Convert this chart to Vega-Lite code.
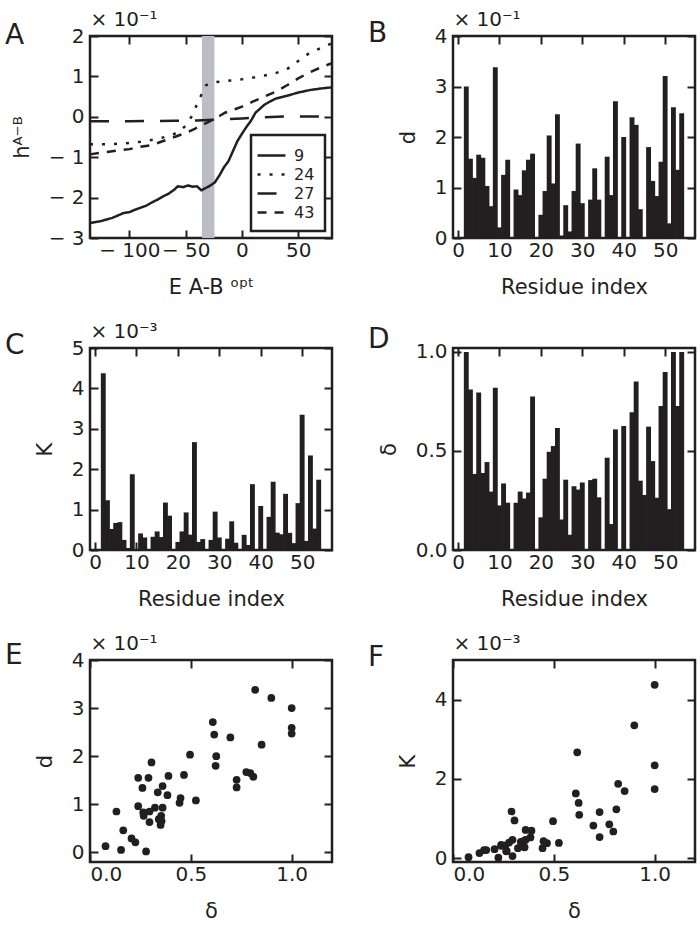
{
  "$schema": "https://vega.github.io/schema/vega-lite/v6.json",
  "background": "white",
  "padding": {"left": 3, "top": 7, "right": 0, "bottom": 0},
  "config": {
    "font": "DejaVu Sans",
    "view": {"stroke": "#231f20", "strokeWidth": 2.5},
    "axis": {"domain": false, "grid": false, "tickSize": -8, "tickWidth": 2, "tickColor": "#231f20", "labelFontSize": 20, "labelColor": "#231f20", "titleFontSize": 21, "titleFontWeight": "normal", "titleColor": "#231f20", "labelPadding": 10, "titlePadding": 16},
    "axisLeft": {"labelPadding": 14, "titlePadding": 16},
    "axisTop": {"titleAnchor": "start", "titleAlign": "left", "titleBaseline": "alphabetic", "titlePadding": 10, "titleFontSize": 20},
    "title": {"fontSize": 28, "fontWeight": "normal", "anchor": "start", "color": "#231f20", "frame": "group", "offset": 0, "baseline": "alphabetic"},
    "legend": {"strokeWidth": 2.5}
  },
  "datasets": {
    "res": [
      {"residue": 2, "d": 3.00, "K": 4.375, "delta": 1.00},
      {"residue": 3, "d": 1.57, "K": 1.23, "delta": 0.81},
      {"residue": 4, "d": 1.19, "K": 0.52, "delta": 0.384},
      {"residue": 5, "d": 1.65, "K": 0.67, "delta": 0.795},
      {"residue": 6, "d": 1.59, "K": 0.69, "delta": 0.389},
      {"residue": 7, "d": 1.03, "K": 0.25, "delta": 0.444},
      {"residue": 8, "d": 0.63, "K": 0.05, "delta": 0.295},
      {"residue": 9, "d": 3.38, "K": 1.875, "delta": 0.819},
      {"residue": 10, "d": 0.21, "K": 0.01, "delta": 0.225},
      {"residue": 11, "d": 1.25, "K": 0.41, "delta": 0.336},
      {"residue": 12, "d": 1.55, "K": 0.31, "delta": 0.239},
      {"residue": 14, "d": 0.96, "K": 0.33, "delta": 0.239},
      {"residue": 15, "d": 0.85, "K": 0.46, "delta": 0.295},
      {"residue": 16, "d": 1.34, "K": 0.32, "delta": 0.26},
      {"residue": 17, "d": 1.55, "K": 1.175, "delta": 0.29},
      {"residue": 18, "d": 1.67, "K": 0.85, "delta": 0.775},
      {"residue": 20, "d": 0.46, "K": 0.2, "delta": 0.165},
      {"residue": 21, "d": 0.93, "K": 0.46, "delta": 0.36},
      {"residue": 22, "d": 2.03, "K": 0.93, "delta": 0.496},
      {"residue": 23, "d": 1.08, "K": 0.38, "delta": 0.525},
      {"residue": 24, "d": 2.45, "K": 2.67, "delta": 0.616},
      {"residue": 25, "d": 0.05, "K": 0.2, "delta": 0.154},
      {"residue": 26, "d": 0.65, "K": 0.27, "delta": 0.355},
      {"residue": 27, "d": 0.13, "K": 0.02, "delta": 0.077},
      {"residue": 28, "d": 0.93, "K": 0.25, "delta": 0.322},
      {"residue": 29, "d": 1.87, "K": 0.95, "delta": 0.305},
      {"residue": 30, "d": 0.69, "K": 0.31, "delta": 0.341},
      {"residue": 32, "d": 0.76, "K": 0.28, "delta": 0.353},
      {"residue": 33, "d": 1.38, "K": 0.71, "delta": 0.36},
      {"residue": 34, "d": 0.76, "K": 0.18, "delta": 0.266},
      {"residue": 36, "d": 1.61, "K": 0.375, "delta": 0.466},
      {"residue": 37, "d": 0.85, "K": 0.125, "delta": 0.131},
      {"residue": 38, "d": 2.71, "K": 1.63, "delta": 0.609},
      {"residue": 40, "d": 2.0, "K": 1.09, "delta": 0.626},
      {"residue": 42, "d": 2.39, "K": 0.82, "delta": 0.696},
      {"residue": 43, "d": 2.24, "K": 1.69, "delta": 0.851},
      {"residue": 44, "d": 0.57, "K": 0.43, "delta": 0.35},
      {"residue": 45, "d": 0.02, "K": 0.39, "delta": 0.278},
      {"residue": 46, "d": 1.8, "K": 1.39, "delta": 0.623},
      {"residue": 47, "d": 1.13, "K": 0.425, "delta": 0.449},
      {"residue": 48, "d": 0.83, "K": 0.17, "delta": 0.264},
      {"residue": 49, "d": 1.51, "K": 1.16, "delta": 0.727},
      {"residue": 50, "d": 3.21, "K": 3.35, "delta": 0.899},
      {"residue": 51, "d": 0.29, "K": 0.225, "delta": 0.206},
      {"residue": 52, "d": 2.59, "K": 2.34, "delta": 1.0},
      {"residue": 53, "d": 1.35, "K": 0.53, "delta": 0.727},
      {"residue": 54, "d": 2.47, "K": 1.74, "delta": 1.0}
    ],
    "hab": [
      {"series": "9", "E": -135, "h": -2.63}, {"series": "9", "E": -125, "h": -2.58}, {"series": "9", "E": -115, "h": -2.5},
      {"series": "9", "E": -105, "h": -2.38}, {"series": "9", "E": -100, "h": -2.36}, {"series": "9", "E": -95, "h": -2.3},
      {"series": "9", "E": -85, "h": -2.2}, {"series": "9", "E": -80, "h": -2.12}, {"series": "9", "E": -75, "h": -2.05},
      {"series": "9", "E": -70, "h": -1.97}, {"series": "9", "E": -65, "h": -1.9}, {"series": "9", "E": -60, "h": -1.8},
      {"series": "9", "E": -57, "h": -1.72}, {"series": "9", "E": -52, "h": -1.74}, {"series": "9", "E": -48, "h": -1.7},
      {"series": "9", "E": -44, "h": -1.73}, {"series": "9", "E": -40, "h": -1.72}, {"series": "9", "E": -36, "h": -1.82},
      {"series": "9", "E": -32, "h": -1.76}, {"series": "9", "E": -28, "h": -1.7}, {"series": "9", "E": -24, "h": -1.62},
      {"series": "9", "E": -20, "h": -1.45}, {"series": "9", "E": -16, "h": -1.25}, {"series": "9", "E": -12, "h": -1.1},
      {"series": "9", "E": -8, "h": -0.85}, {"series": "9", "E": -4, "h": -0.6}, {"series": "9", "E": 0, "h": -0.42},
      {"series": "9", "E": 4, "h": -0.25}, {"series": "9", "E": 8, "h": -0.1}, {"series": "9", "E": 12, "h": 0.1},
      {"series": "9", "E": 16, "h": 0.2}, {"series": "9", "E": 20, "h": 0.3}, {"series": "9", "E": 25, "h": 0.38},
      {"series": "9", "E": 30, "h": 0.45}, {"series": "9", "E": 40, "h": 0.52}, {"series": "9", "E": 50, "h": 0.6},
      {"series": "9", "E": 60, "h": 0.66}, {"series": "9", "E": 70, "h": 0.7}, {"series": "9", "E": 80, "h": 0.73},
      {"series": "24", "E": -135, "h": -0.68}, {"series": "24", "E": -120, "h": -0.68}, {"series": "24", "E": -105, "h": -0.66},
      {"series": "24", "E": -90, "h": -0.62}, {"series": "24", "E": -75, "h": -0.55}, {"series": "24", "E": -62, "h": -0.45},
      {"series": "24", "E": -55, "h": -0.35}, {"series": "24", "E": -50, "h": -0.22}, {"series": "24", "E": -45, "h": 0.0},
      {"series": "24", "E": -40, "h": 0.3}, {"series": "24", "E": -36, "h": 0.55}, {"series": "24", "E": -32, "h": 0.78},
      {"series": "24", "E": -28, "h": 0.84}, {"series": "24", "E": -20, "h": 0.87}, {"series": "24", "E": -10, "h": 0.9},
      {"series": "24", "E": 0, "h": 0.93}, {"series": "24", "E": 10, "h": 0.97}, {"series": "24", "E": 20, "h": 1.02},
      {"series": "24", "E": 30, "h": 1.08}, {"series": "24", "E": 40, "h": 1.18}, {"series": "24", "E": 50, "h": 1.38},
      {"series": "24", "E": 60, "h": 1.58}, {"series": "24", "E": 70, "h": 1.7}, {"series": "24", "E": 80, "h": 1.82},
      {"series": "27", "E": -135, "h": -0.11}, {"series": "27", "E": -100, "h": -0.11}, {"series": "27", "E": -60, "h": -0.1},
      {"series": "27", "E": -40, "h": -0.09}, {"series": "27", "E": -20, "h": -0.07}, {"series": "27", "E": 0, "h": -0.04},
      {"series": "27", "E": 20, "h": -0.01}, {"series": "27", "E": 40, "h": 0.01}, {"series": "27", "E": 60, "h": 0.01},
      {"series": "27", "E": 80, "h": 0.0},
      {"series": "43", "E": -135, "h": -0.93}, {"series": "43", "E": -120, "h": -0.87}, {"series": "43", "E": -100, "h": -0.8},
      {"series": "43", "E": -90, "h": -0.74}, {"series": "43", "E": -80, "h": -0.7}, {"series": "43", "E": -70, "h": -0.6},
      {"series": "43", "E": -60, "h": -0.5}, {"series": "43", "E": -50, "h": -0.4}, {"series": "43", "E": -42, "h": -0.3},
      {"series": "43", "E": -35, "h": -0.2}, {"series": "43", "E": -28, "h": -0.1}, {"series": "43", "E": -20, "h": 0.02},
      {"series": "43", "E": -15, "h": 0.1}, {"series": "43", "E": -5, "h": 0.2}, {"series": "43", "E": 0, "h": 0.25},
      {"series": "43", "E": 10, "h": 0.38}, {"series": "43", "E": 20, "h": 0.5}, {"series": "43", "E": 30, "h": 0.62},
      {"series": "43", "E": 40, "h": 0.78}, {"series": "43", "E": 50, "h": 0.95}, {"series": "43", "E": 60, "h": 1.1},
      {"series": "43", "E": 70, "h": 1.22}, {"series": "43", "E": 80, "h": 1.33}
    ]
  },
  "columns": 2,
  "spacing": {"row": 110, "column": 121},
  "bounds": "flush",
  "resolve": {"legend": {"strokeDash": "independent"}},
  "concat": [
    {
      "width": 242, "height": 202,
      "title": {"text": "A", "dx": -85, "dy": 45},
      "resolve": {"axis": {"x": "independent", "y": "independent"}},
      "layer": [
        {
          "data": {"values": [{"band_from": -35.5, "band_to": -24.5}]},
          "mark": {"type": "rect", "color": "#bcbcc4"},
          "encoding": {
            "x": {"field": "band_from", "type": "quantitative", "scale": {"domain": [-135, 80], "nice": false, "zero": false}, "axis": null},
            "x2": {"field": "band_to"}
          }
        },
        {
          "data": {"name": "hab"},
          "mark": {"type": "line", "strokeWidth": 2.5, "color": "#231f20"},
          "encoding": {
            "x": {"field": "E", "type": "quantitative", "scale": {"domain": [-135, 80], "nice": false, "zero": false},
                  "axis": {"orient": "bottom", "values": [-100, -50, 0, 50], "title": "E A-B ᵒᵖᵗ", "labelExpr": "replace(replace(datum.label, '−', '− '), '-', '− ')"}},
            "y": {"field": "h", "type": "quantitative", "scale": {"domain": [-3, 2], "nice": false, "zero": false},
                  "axis": {"orient": "left", "values": [-3, -2, -1, 0, 1, 2], "title": "hᴬ⁻ᴮ", "labelExpr": "replace(replace(datum.label, '−', '− '), '-', '− ')"}},
            "strokeDash": {"field": "series", "type": "nominal",
              "scale": {"domain": ["9", "24", "27", "43"], "range": [[1, 0], [3, 9], [19, 16], [9, 8]]},
              "legend": {"orient": "bottom-right", "title": null, "offset": 7, "symbolType": "M-1.55,0H1.55", "symbolSize": 324, "symbolStrokeWidth": 2.5, "symbolStrokeColor": "#231f20", "labelFontSize": 16, "labelColor": "#231f20", "labelOffset": 12, "strokeColor": "#231f20", "fillColor": "white", "padding": 10, "rowPadding": 0}}
          }
        },
        {
          "data": {"name": "hab"},
          "mark": {"type": "point", "opacity": 0},
          "encoding": {
            "x": {"field": "E", "type": "quantitative", "scale": {"domain": [-135, 80], "nice": false, "zero": false},
                  "axis": {"orient": "top", "values": [-100, -50, 0, 50], "labels": false, "title": "× 10⁻¹"}},
            "y": {"field": "h", "type": "quantitative", "scale": {"domain": [-3, 2], "nice": false, "zero": false},
                  "axis": {"orient": "right", "values": [-3, -2, -1, 0, 1, 2], "labels": false, "title": null}}
          }
        }
      ]
    },
    {
      "width": 242, "height": 202,
      "title": {"text": "B", "dx": -85, "dy": 43},
      "resolve": {"axis": {"x": "independent", "y": "independent"}},
      "data": {"name": "res"},
      "layer": [
        {
          "mark": {"type": "bar", "size": 4.9, "color": "#231f20"},
          "encoding": {
            "x": {"field": "residue", "type": "quantitative", "scale": {"domain": [0, 56], "nice": false}, "axis": {"orient": "bottom", "values": [0, 10, 20, 30, 40, 50], "title": "Residue index"}},
            "y": {"field": "d", "type": "quantitative", "scale": {"domain": [0, 4], "nice": false}, "axis": {"orient": "left", "values": [0, 1, 2, 3, 4], "title": "d"}}
          }
        },
        {
          "mark": {"type": "point", "opacity": 0},
          "encoding": {
            "x": {"field": "residue", "type": "quantitative", "scale": {"domain": [0, 56], "nice": false}, "axis": {"orient": "top", "values": [0, 10, 20, 30, 40, 50], "labels": false, "title": "× 10⁻¹"}},
            "y": {"field": "d", "type": "quantitative", "scale": {"domain": [0, 4], "nice": false}, "axis": {"orient": "right", "values": [0, 1, 2, 3, 4], "labels": false, "title": null}}
          }
        }
      ]
    },
    {
      "width": 242, "height": 202,
      "title": {"text": "C", "dx": -85, "dy": 43},
      "resolve": {"axis": {"x": "independent", "y": "independent"}},
      "data": {"name": "res"},
      "layer": [
        {
          "mark": {"type": "bar", "size": 4.9, "color": "#231f20"},
          "encoding": {
            "x": {"field": "residue", "type": "quantitative", "scale": {"domain": [0, 56], "nice": false}, "axis": {"orient": "bottom", "values": [0, 10, 20, 30, 40, 50], "title": "Residue index"}},
            "y": {"field": "K", "type": "quantitative", "scale": {"domain": [0, 5], "nice": false}, "axis": {"orient": "left", "values": [0, 1, 2, 3, 4, 5], "title": "K"}}
          }
        },
        {
          "mark": {"type": "point", "opacity": 0},
          "encoding": {
            "x": {"field": "residue", "type": "quantitative", "scale": {"domain": [0, 56], "nice": false}, "axis": {"orient": "top", "values": [0, 10, 20, 30, 40, 50], "labels": false, "title": "× 10⁻³"}},
            "y": {"field": "K", "type": "quantitative", "scale": {"domain": [0, 5], "nice": false}, "axis": {"orient": "right", "values": [0, 1, 2, 3, 4, 5], "labels": false, "title": null}}
          }
        }
      ]
    },
    {
      "width": 242, "height": 202,
      "title": {"text": "D", "dx": -85, "dy": 16},
      "resolve": {"axis": {"x": "independent", "y": "independent"}},
      "data": {"name": "res"},
      "layer": [
        {
          "mark": {"type": "bar", "size": 4.9, "color": "#231f20"},
          "encoding": {
            "x": {"field": "residue", "type": "quantitative", "scale": {"domain": [0, 56], "nice": false}, "axis": {"orient": "bottom", "values": [0, 10, 20, 30, 40, 50], "title": "Residue index"}},
            "y": {"field": "delta", "type": "quantitative", "scale": {"domain": [0, 1.02], "nice": false}, "axis": {"orient": "left", "values": [0, 0.5, 1.0], "format": ".1f", "title": "δ"}}
          }
        },
        {
          "mark": {"type": "point", "opacity": 0},
          "encoding": {
            "x": {"field": "residue", "type": "quantitative", "scale": {"domain": [0, 56], "nice": false}, "axis": {"orient": "top", "values": [0, 10, 20, 30, 40, 50], "labels": false, "title": null}},
            "y": {"field": "delta", "type": "quantitative", "scale": {"domain": [0, 1.02], "nice": false}, "axis": {"orient": "right", "values": [0, 0.5, 1.0], "labels": false, "title": null}}
          }
        }
      ]
    },
    {
      "width": 242, "height": 202,
      "title": {"text": "E", "dx": -85, "dy": 41},
      "resolve": {"axis": {"x": "independent", "y": "independent"}},
      "data": {"name": "res"},
      "layer": [
        {
          "mark": {"type": "circle", "size": 60, "opacity": 1, "color": "#231f20"},
          "encoding": {
            "x": {"field": "delta", "type": "quantitative", "scale": {"domain": [0, 1.2], "nice": false}, "axis": {"orient": "bottom", "values": [0, 0.5, 1.0], "format": ".1f", "title": "δ"}},
            "y": {"field": "d", "type": "quantitative", "scale": {"domain": [-0.2, 4], "nice": false, "zero": false}, "axis": {"orient": "left", "values": [0, 1, 2, 3, 4], "title": "d"}}
          }
        },
        {
          "mark": {"type": "point", "opacity": 0},
          "encoding": {
            "x": {"field": "delta", "type": "quantitative", "scale": {"domain": [0, 1.2], "nice": false}, "axis": {"orient": "top", "values": [0, 0.5, 1.0], "labels": false, "title": "× 10⁻¹"}},
            "y": {"field": "d", "type": "quantitative", "scale": {"domain": [-0.2, 4], "nice": false, "zero": false}, "axis": {"orient": "right", "values": [0, 1, 2, 3, 4], "labels": false, "title": null}}
          }
        }
      ]
    },
    {
      "width": 242, "height": 202,
      "title": {"text": "F", "dx": -85, "dy": 43},
      "resolve": {"axis": {"x": "independent", "y": "independent"}},
      "data": {"name": "res"},
      "layer": [
        {
          "mark": {"type": "circle", "size": 60, "opacity": 1, "color": "#231f20"},
          "encoding": {
            "x": {"field": "delta", "type": "quantitative", "scale": {"domain": [0, 1.2], "nice": false}, "axis": {"orient": "bottom", "values": [0, 0.5, 1.0], "format": ".1f", "title": "δ"}},
            "y": {"field": "K", "type": "quantitative", "scale": {"domain": [-0.1, 5], "nice": false, "zero": false}, "axis": {"orient": "left", "values": [0, 2, 4], "title": "K"}}
          }
        },
        {
          "mark": {"type": "point", "opacity": 0},
          "encoding": {
            "x": {"field": "delta", "type": "quantitative", "scale": {"domain": [0, 1.2], "nice": false}, "axis": {"orient": "top", "values": [0, 0.5, 1.0], "labels": false, "title": "× 10⁻³"}},
            "y": {"field": "K", "type": "quantitative", "scale": {"domain": [-0.1, 5], "nice": false, "zero": false}, "axis": {"orient": "right", "values": [0, 2, 4], "labels": false, "title": null}}
          }
        }
      ]
    }
  ]
}
